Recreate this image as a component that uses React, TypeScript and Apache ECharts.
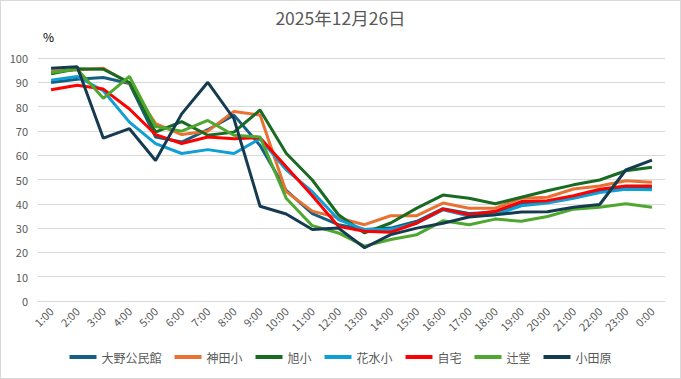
import React, { useEffect, useRef } from "react";
import * as echarts from "echarts";

const categories = ["1:00","2:00","3:00","4:00","5:00","6:00","7:00","8:00","9:00","10:00","11:00","12:00","13:00","14:00","15:00","16:00","17:00","18:00","19:00","20:00","21:00","22:00","23:00","0:00"];

const ohno = [89.9,91.3,92,89.5,67.5,65.4,70.5,76.5,64,45.5,36,31.4,29.4,30,32.8,38,36,36.5,40,41,43,45.5,46.5,46.5];
const kanda = [94.7,95.1,95.8,89.5,73,68.5,69.9,78,76.5,45,37,34.2,31.4,35.1,35.1,40.3,38.2,38.2,42.3,42.7,46.1,47.3,49.5,48.9];
const asahi = [93.5,95.6,95.4,89.9,69.5,73.8,68.2,69.5,78.6,60.8,49.8,35.5,28,32.1,38.2,43.6,42.3,40,42.7,45.4,47.8,49.8,53.6,55];
const hanamizu = [90.9,92.4,86.5,73.6,64.8,60.7,62.3,60.7,66.8,54,45,33.5,29.4,29.4,32,37.5,35,35.5,39.2,40.3,42.3,44.6,46,45.8];
const jitaku = [86.9,88.8,87.2,79,68.5,64.8,67.5,66.8,67.2,55.2,43.3,30.7,28.7,28.3,32.1,37.8,35.5,36.9,40.9,41.3,43.3,46,47.3,47.3];
const tsujido = [94,95.4,83.4,92.4,71.8,69.9,74.3,68.2,67.5,42.3,31,28,22.6,25.3,27.3,33,31.4,33.7,32.8,34.8,37.8,38.6,40,38.6];
const odawara = [95.8,96.4,67,70.9,57.8,77,90,75,39,35.8,29.4,30,21.9,27.3,30,32,34.6,35.5,36.6,36.7,38.6,39.7,53.9,58];

const seriesNames = ["大野公民館","神田小","旭小","花水小","自宅","辻堂","小田原"];
const seriesData = [ohno, kanda, asahi, hanamizu, jitaku, tsujido, odawara];
const seriesColors = ["#156082","#E97132","#196B24","#0F9ED5","#FF0000","#4EA72E","#153B50"];

const FONT = "'Noto Sans CJK JP', 'Noto Sans', sans-serif";

export default function App() {
  const ref = useRef<HTMLDivElement>(null);
  useEffect(() => {
    if (!ref.current) return;
    const chart = echarts.init(ref.current, null, { renderer: "svg" });
    chart.setOption({
      animation: false,
      backgroundColor: "#ffffff",
      textStyle: { fontFamily: FONT },
      title: {
        text: "2025年12月26日",
        left: "center",
        top: 3,
        textStyle: { fontSize: 17.5, fontWeight: "normal", color: "#595959", fontFamily: FONT },
      },
      graphic: [
        {
          type: "text",
          left: 42,
          top: 29,
          style: { text: "%", fontSize: 12, fill: "#000000", fontFamily: FONT },
        },
      ],
      legend: {
        data: seriesNames,
        bottom: 10,
        left: "center",
        icon: "rect",
        itemWidth: 27,
        itemHeight: 4,
        itemGap: 13,
        textStyle: { fontSize: 12, color: "#595959", fontFamily: FONT },
      },
      grid: { left: 37, right: 15, top: 57, bottom: 77, containLabel: false },
      xAxis: {
        type: "category",
        data: categories,
        boundaryGap: true,
        axisLine: { show: true, lineStyle: { color: "#d9d9d9", width: 1 } },
        axisTick: { show: false },
        axisLabel: { rotate: 45, fontSize: 11, color: "#595959", margin: 8, interval: 0, fontFamily: FONT },
      },
      yAxis: {
        type: "value",
        min: 0,
        max: 100,
        interval: 10,
        axisLine: { show: false },
        axisTick: { show: false },
        axisLabel: { fontSize: 11, color: "#595959", margin: 10, fontFamily: FONT },
        splitLine: { lineStyle: { color: "#d9d9d9", width: 1 } },
      },
      series: seriesNames.map((name, i) => ({
        name,
        type: "line",
        data: seriesData[i],
        symbol: "none",
        lineStyle: { width: 3, color: seriesColors[i] },
        itemStyle: { color: seriesColors[i] },
      })),
    });
    return () => chart.dispose();
  }, []);
  return (
    <div
      style={{
        position: "fixed",
        left: 0,
        top: 0,
        width: 681,
        height: 379,
        boxSizing: "border-box",
        border: "1px solid #d9d9d9",
        background: "#fff",
      }}
    >
      <div ref={ref} style={{ width: 679, height: 377 }} />
    </div>
  );
}
